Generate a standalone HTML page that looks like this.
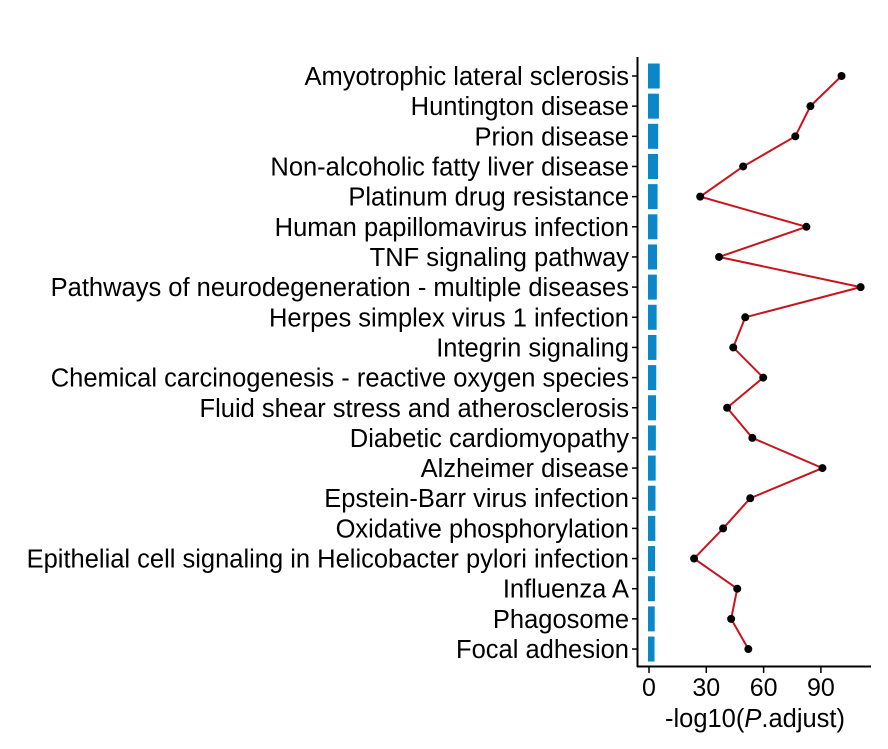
<!DOCTYPE html>
<html><head><meta charset="utf-8"><style>
body{margin:0;background:#fff}
svg text{font-family:"Liberation Sans",Arial,sans-serif;fill:#000}
</style></head><body>
<svg id="chart" width="888" height="744" xmlns="http://www.w3.org/2000/svg">
<rect width="888" height="744" fill="#fff"/>
<g id="bars"></g><g id="line"></g><g id="labels"></g><g id="axes"></g>
</svg>
<script>
const categories=["Amyotrophic lateral sclerosis","Huntington disease","Prion disease","Non-alcoholic fatty liver disease","Platinum drug resistance","Human papillomavirus infection","TNF signaling pathway","Pathways of neurodegeneration - multiple diseases","Herpes simplex virus 1 infection","Integrin signaling","Chemical carcinogenesis - reactive oxygen species","Fluid shear stress and atherosclerosis","Diabetic cardiomyopathy","Alzheimer disease","Epstein-Barr virus infection","Oxidative phosphorylation","Epithelial cell signaling in Helicobacter pylori infection","Influenza A","Phagosome","Focal adhesion"];
const barValues=[5.6,5.2,4.8,4.7,4.5,4.4,4.2,4.1,4.0,3.9,3.8,3.7,3.6,3.5,3.4,3.3,3.2,3.1,3.0,2.9];
const lineValues=[100.8,84.5,76.6,49.3,26.8,82.4,36.7,110.8,50.4,44.1,59.8,40.9,54.1,90.8,53.0,38.8,23.6,46.2,43.0,52.0];
const xTicks=[0,30,60,90];
const NS="http://www.w3.org/2000/svg";
const x=v=>649+v*1.91;
const y=i=>76+i*30.16;
function mk(tag,attrs,parent){const e=document.createElementNS(NS,tag);for(const k in attrs)e.setAttribute(k,attrs[k]);parent.appendChild(e);return e;}
const gb=document.getElementById('bars'),gl=document.getElementById('line'),gt=document.getElementById('labels'),ga=document.getElementById('axes');
categories.forEach((c,i)=>{
  const r=mk('rect',{x:x(0)-1,y:y(i)-12.5,width:x(barValues[i])-x(0)+1,height:25,fill:'#0a87c8'},gb);
  
  
  const t=mk('text',{x:629,y:y(i)+9,'text-anchor':'end','font-size':'25.5'},gt);
  t.textContent=c;
  
  
  mk('line',{x1:632,x2:637,y1:y(i),y2:y(i),stroke:'#000','stroke-width':1.5},ga);
});
const pl=mk('polyline',{points:lineValues.map((v,i)=>x(v)+','+y(i)).join(' '),fill:'none',stroke:'#c8141e','stroke-width':2},gl);


lineValues.forEach((v,i)=>{
  const c=mk('circle',{cx:x(v),cy:y(i),r:4,fill:'#000'},gl);
  
  
});
const ya=mk('line',{x1:637.5,x2:637.5,y1:57,y2:667,stroke:'#000','stroke-width':2},ga);


const xa=mk('line',{x1:637,x2:871,y1:666.5,y2:666.5,stroke:'#000','stroke-width':2},ga);


xTicks.forEach(v=>{
  mk('line',{x1:x(v),x2:x(v),y1:667,y2:673,stroke:'#000','stroke-width':1.5},ga);
  const t=mk('text',{x:x(v),y:696,'text-anchor':'middle','font-size':'25'},ga);
  t.textContent=v;
  
  
});
const tt=mk('text',{x:755,y:727,'text-anchor':'middle','font-size':'25.5'},ga);
tt.innerHTML='-log10(<tspan font-style="italic">P</tspan>.adjust)';


</script>
</body></html>
